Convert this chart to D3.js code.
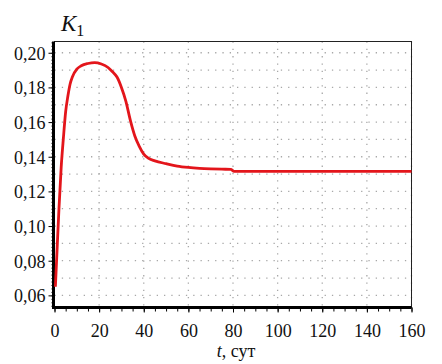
<!DOCTYPE html>
<html>
<head>
<meta charset="utf-8">
<script src="https://cdn.jsdelivr.net/npm/d3@7"></script>
</head>
<body style="margin:0; background:#fff">
<svg id="chart" width="442" height="364"></svg>
<script>
// time, days
var tDays = [0.4, 1, 2, 3, 4, 5, 6, 7, 8, 10, 12, 15, 18, 21, 24, 26, 28, 30, 32, 34, 36, 38, 40, 42, 45, 50, 55, 60, 65, 70, 75, 79, 80.5, 100, 120, 140, 160];
// K1 values
var k1 = [0.065, 0.082, 0.110, 0.134, 0.151, 0.166, 0.175, 0.182, 0.186, 0.1905, 0.1925, 0.1938, 0.1943, 0.1935, 0.1915, 0.189, 0.186, 0.180, 0.172, 0.161, 0.152, 0.146, 0.1415, 0.1392, 0.1376, 0.136, 0.1346, 0.1338, 0.1333, 0.133, 0.1328, 0.1327, 0.1316, 0.1315, 0.1315, 0.1315, 0.1315];

var xTicks = [0, 20, 40, 60, 80, 100, 120, 140, 160];
var yTicks = [0.06, 0.08, 0.10, 0.12, 0.14, 0.16, 0.18, 0.20];

var fontFam = "'Liberation Serif', 'Times New Roman', serif";

var margin = { top: 41.5, right: 30.5, bottom: 56.5, left: 54.5 },
  width = 442 - margin.left - margin.right,
  height = 364 - margin.top - margin.bottom;

var svg = d3.select("#chart")
  .append("g")
  .attr("transform", "translate(" + margin.left + "," + margin.top + ")");

var x = d3.scaleLinear().domain([0, 160]).range([0, width]);
var y = d3.scaleLinear().domain([0.053, 0.2065]).range([height, 0]);

// dotted grid
svg.append("g")
  .selectAll("line")
  .data(d3.range(0.06, 0.2051, 0.01))
  .enter().append("line")
  .attr("x1", 0).attr("x2", width)
  .attr("y1", function (d) { return y(d); })
  .attr("y2", function (d) { return y(d); })
  .attr("stroke", "#a8a8a8")
  .attr("stroke-width", 1.3)
  .attr("stroke-dasharray", "1.3,6");

svg.append("g")
  .selectAll("line")
  .data(xTicks.slice(1))
  .enter().append("line")
  .attr("y1", 0).attr("y2", height)
  .attr("x1", function (d) { return x(d); })
  .attr("x2", function (d) { return x(d); })
  .attr("stroke", "#a8a8a8")
  .attr("stroke-width", 1.3)
  .attr("stroke-dasharray", "1.3,6");

// minor ticks
svg.append("g")
  .call(d3.axisLeft(y).tickValues(d3.range(0.054, 0.2061, 0.002)).tickSize(3).tickFormat(""))
  .call(function (g) { g.select(".domain").remove(); });

svg.append("g")
  .attr("transform", "translate(0," + height + ")")
  .call(d3.axisBottom(x).tickValues(d3.range(0, 161, 5)).tickSize(4).tickFormat(""))
  .call(function (g) { g.select(".domain").remove(); });

// major axes
var fmt = function (d) { return d3.format(".2f")(d).replace(".", ","); };

var yAxis = svg.append("g")
  .call(d3.axisLeft(y).tickValues(yTicks).tickSize(6).tickPadding(3).tickFormat(fmt));
yAxis.select(".domain").remove();
yAxis.selectAll("text")
  .attr("dy", "0.35em")
  .attr("font-family", "Liberation Serif")
  .style("font-family", fontFam, "important")
  .style("font-size", "18px")
  .attr("fill", "#111");

var xAxis = svg.append("g")
  .attr("transform", "translate(0," + height + ")")
  .call(d3.axisBottom(x).tickValues(xTicks).tickSize(5).tickPadding(12).tickFormat(d3.format("d")));
xAxis.select(".domain").remove();
xAxis.selectAll("text")
  .attr("font-family", "Liberation Serif")
  .style("font-family", fontFam, "important")
  .style("font-size", "18px")
  .attr("fill", "#111");

// frame
svg.append("rect")
  .attr("x", 0).attr("y", 0)
  .attr("width", width).attr("height", height)
  .attr("fill", "none")
  .attr("stroke", "#222")
  .attr("stroke-width", 1);

svg.append("line")
  .attr("x1", -1).attr("x2", -1).attr("y1", 0).attr("y2", height + 1.5)
  .attr("stroke", "#000").attr("stroke-width", 3);
svg.append("line")
  .attr("x1", -2.5).attr("x2", width).attr("y1", height).attr("y2", height)
  .attr("stroke", "#000").attr("stroke-width", 3);

// curve
var line = d3.line()
  .x(function (d, i) { return x(tDays[i]); })
  .y(function (d) { return y(d); })
  .curve(d3.curveMonotoneX);

svg.append("path")
  .datum(k1)
  .attr("d", line)
  .attr("fill", "none")
  .attr("stroke", "#e3151b")
  .attr("stroke-width", 2.8);

// titles
var title = d3.select("#chart").append("text")
  .attr("x", 61)
  .attr("y", 31)
  .attr("font-family", "Liberation Serif")
  .style("font-family", fontFam, "important")
  .style("font-size", "23px")
  .attr("fill", "#111");
title.append("tspan").style("font-style", "italic").text("K");
title.append("tspan").style("font-size", "16px").attr("dy", 5).text("1");

var xl = d3.select("#chart").append("text")
  .attr("x", 236)
  .attr("y", 357)
  .attr("text-anchor", "middle")
  .attr("font-family", "Liberation Serif")
  .style("font-family", fontFam, "important")
  .style("font-size", "18px")
  .attr("fill", "#111");
xl.append("tspan").style("font-style", "italic").text("t");
xl.append("tspan").text(", сут");
</script>
</body>
</html>
